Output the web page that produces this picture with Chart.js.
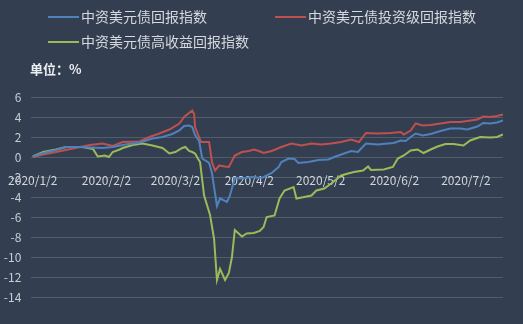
<!DOCTYPE html>
<html>
<head>
<meta charset="utf-8">
<script src="https://cdn.jsdelivr.net/npm/chart.js@4/dist/chart.umd.min.js"></script>
<style>
  body { margin: 0; background: #333f51; }
  #wrap { position: relative; width: 523px; height: 324px; background: #333f51; font-family: "Noto Sans CJK SC", "Noto Sans", sans-serif; }
  canvas { position: absolute; left: 0; top: 0; }
  .leg { position: absolute; font-size: 14px; color: #d6d9de; line-height: 18px; white-space: nowrap; }
  .leg i { display: inline-block; width: 31px; height: 2px; vertical-align: middle; margin-right: 2px; position: relative; top: -1px; }
  #unidad { position: absolute; left: 30px; top: 59px; font-size: 13px; font-weight: bold; color: #eceef1; }
</style>
</head>
<body>
<div id="wrap">
  <canvas id="grafico" width="523" height="324"></canvas>
  <div class="leg" style="left:48px; top:7px;"><i style="background:#4f81bd"></i>中资美元债回报指数</div>
  <div class="leg" style="left:275px; top:7px;"><i style="background:#c0504d"></i>中资美元债投资级回报指数</div>
  <div class="leg" style="left:48px; top:32px;"><i style="background:#9bbb59"></i>中资美元债高收益回报指数</div>
  <div id="unidad">单位：%</div>
</div>
<script>
// dias contados desde 2020/1/2
const diasTicks = [0, 31, 60, 91, 121, 152, 182];
const etiquetasTicks = ["2020/1/2", "2020/2/2", "2020/3/2", "2020/4/2", "2020/5/2", "2020/6/2", "2020/7/2"];

const diasTotal = [0, 4.4, 9.8, 14, 19, 24, 29.4, 33.6, 39, 44.9, 50.3, 54.5, 58.6, 61.6, 63.6, 65.7, 67, 68.2, 69.9, 71.2,
    74.1, 75.3, 77.4, 78.7, 81.6, 82.8, 84.9, 87.9, 92, 96.2, 100.4, 103.3, 104.5, 107.5, 110, 111.6, 115.8, 120, 124.2, 126.7,
    130.8, 133.8, 136.6, 140, 145, 149.2, 151.7, 154.6, 156.7, 158.8, 160.9, 163.9, 167.2, 171.3, 175.5, 179.7, 182.6, 186.8, 189.3, 192.2,
    195.1, 197.6];
const valoresTotal = [0.05, 0.4, 0.7, 1.0, 1.0, 0.95, 0.9, 1.0, 1.25, 1.45, 1.85, 2.0, 2.3, 2.65, 3.1, 3.15, 3.0, 2.2, 1.6, -0.15,
    -0.6, -1.6, -4.9, -4.15, -4.5, -3.9, -2.1, -2.15, -2.0, -2.1, -1.6, -1.0, -0.5, -0.15, -0.2, -0.6, -0.5, -0.3, -0.25, 0.0,
    0.35, 0.6, 0.5, 1.35, 1.25, 1.35, 1.4, 1.65, 1.6, 2.0, 2.35, 2.15, 2.3, 2.6, 2.85, 2.85, 2.75, 3.05, 3.4, 3.35,
    3.45, 3.65];

const diasInversion = [0, 4.4, 9.8, 16.9, 24, 29.4, 33.6, 37.8, 44.9, 49, 53.2, 57.4, 61.6, 63.6, 67, 67.8, 68.2, 69.5, 70.7, 74.1,
    75.3, 76.6, 78.3, 80.8, 82.4, 84.9, 87.9, 90.8, 92.9, 95, 97, 100.4, 104.5, 108.7, 112.9, 117.1, 121.2, 125.4, 129.6, 133.8,
    137.1, 140, 145, 150.5, 154.6, 155.9, 158.8, 160.9, 163.9, 167.2, 171.3, 175.5, 179.7, 182.6, 186.8, 189.3, 192.2, 195.1, 197.6];
const valoresInversion = [0, 0.25, 0.5, 0.85, 1.2, 1.35, 1.1, 1.5, 1.55, 2.0, 2.35, 2.75, 3.35, 4.0, 4.65, 4.3, 3.0, 2.2, 1.5, 1.5,
    -0.5, -1.35, -0.85, -0.95, -1.0, 0.15, 0.5, 0.6, 0.75, 0.6, 0.4, 0.6, 1.0, 1.35, 1.15, 1.35, 1.25, 1.35, 1.5, 1.75,
    1.5, 2.4, 2.35, 2.4, 2.5, 2.25, 2.65, 3.35, 3.15, 3.2, 3.35, 3.5, 3.5, 3.6, 3.75, 4.05, 4.0, 4.1, 4.25];

const diasAltoRend = [0, 4.4, 9.8, 14, 21.1, 25.3, 27.3, 30.3, 32, 33.6, 36.5, 37.8, 42, 46.1, 50.3, 54.5, 57.4, 59.9, 62.8, 64.1,
    65.7, 67, 68.2, 69.5, 70.3, 72, 74.5, 76.2, 77.4, 78.7, 80.8, 82.4, 83.7, 84.9, 87.9, 89.9, 92.9, 95.4, 97, 98.3,
    101.6, 103.7, 105.8, 109.6, 110.8, 114.1, 117.1, 119.2, 122.5, 125.4, 129.6, 132.5, 135, 138.8, 140.9, 142.1, 147.5, 151.3, 153.4, 155.9,
    158.8, 161.7, 164.2, 167.2, 170.1, 173.4, 176.8, 181, 183.8, 188, 192.2, 195.1, 197.6];
const valoresAltoRend = [0.05, 0.5, 0.75, 1.0, 1.0, 0.8, 0.05, 0.15, 0.0, 0.5, 0.75, 0.9, 1.2, 1.35, 1.15, 0.9, 0.35, 0.5, 0.9, 1.0,
    0.6, 0.5, 0.35, -0.2, -0.5, -3.85, -5.8, -8.2, -12.3, -11.2, -12.3, -11.6, -10.0, -7.3, -7.95, -7.65, -7.6, -7.4, -7.0, -6.0,
    -5.85, -4.15, -3.35, -3.0, -4.15, -4.0, -3.85, -3.35, -3.15, -2.65, -1.85, -1.65, -1.5, -1.35, -0.95, -1.3, -1.25, -1.0, -0.15, 0.15,
    0.65, 0.75, 0.4, 0.75, 1.05, 1.3, 1.3, 1.15, 1.65, 2.0, 1.95, 2.0, 2.25];

function unirPuntos(dias, valores) {
    return dias.map((d, i) => ({ x: d, y: valores[i] }));
}

function serie(etiqueta, dias, valores, color) {
    return {
        label: etiqueta,
        data: unirPuntos(dias, valores),
        borderColor: color,
        borderWidth: 2,
        pointRadius: 0,
        tension: 0,
        fill: false
    };
}

const fuente = { family: "'Noto Sans CJK SC', 'Noto Sans', sans-serif", size: 12 };

new Chart(document.getElementById("grafico").getContext("2d"), {
    type: "line",
    data: {
        datasets: [
            serie("中资美元债回报指数", diasTotal, valoresTotal, "#4f81bd"),
            serie("中资美元债投资级回报指数", diasInversion, valoresInversion, "#c0504d"),
            serie("中资美元债高收益回报指数", diasAltoRend, valoresAltoRend, "#9bbb59")
        ]
    },
    options: {
        responsive: false,
        animation: false,
        layout: { padding: { top: 97, right: 20, bottom: 27, left: 0 } },
        plugins: { legend: { display: false }, tooltip: { enabled: false } },
        scales: {
            x: {
                type: "linear",
                position: { y: 0 },
                min: -0.6,
                max: 197.6,
                grid: { display: false },
                border: { display: false },
                afterBuildTicks: escala => { escala.ticks = diasTicks.map(v => ({ value: v })); },
                ticks: {
                    autoSkip: false,
                    maxRotation: 0,
                    padding: 8,
                    color: "#d3d7dc",
                    font: fuente,
                    callback: v => etiquetasTicks[diasTicks.indexOf(v)]
                }
            },
            y: {
                min: -14,
                max: 6,
                afterFit: escala => { escala.width = 28; },
                grid: { color: "#525d6b", drawTicks: false },
                border: { display: false },
                ticks: { stepSize: 2, padding: 10, color: "#c9cdd3", font: fuente }
            }
        }
    }
});
</script>
</body>
</html>
